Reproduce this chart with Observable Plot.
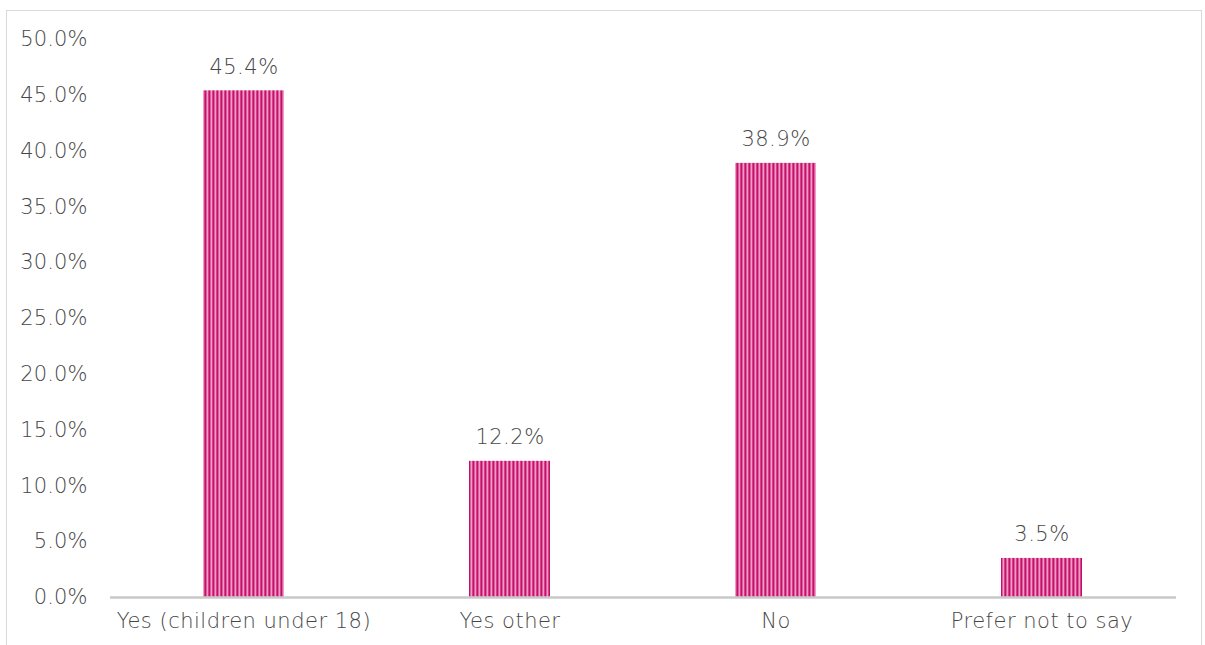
<!DOCTYPE html>
<html>
<head>
<meta charset="utf-8">
<script src="https://cdn.jsdelivr.net/npm/d3@7"></script>
<script src="https://cdn.jsdelivr.net/npm/@observablehq/plot@0.6"></script>
<style>
  html, body { margin: 0; padding: 0; background: #fff; overflow: hidden; width: 1205px; height: 645px; }
  #frame { position: absolute; left: 6px; top: 10px; width: 1196px; height: 700px; border: 1px solid #d9d9d9; box-sizing: border-box; }
  #chart { position: absolute; left: 0; top: 0; }
  #chart svg text { letter-spacing: 0.5px; }
  #chart svg g[aria-label="y-axis tick label"] text { letter-spacing: 0.1px; }
</style>
</head>
<body>
<div id="frame"></div>
<div id="chart"></div>
<script>
const categories = ["Yes (children under 18)", "Yes other", "No", "Prefer not to say"];
const values = [45.4, 12.2, 38.9, 3.5];
const yTicks = [0, 5, 10, 15, 20, 25, 30, 35, 40, 45, 50];

const data = categories.map((c, i) => ({category: c, value: values[i]}));
const fmt = d => d.toFixed(1) + "%";

const chart = Plot.plot({
  width: 1205,
  height: 645,
  marginLeft: 110,
  marginRight: 29,
  marginTop: 39,
  marginBottom: 48,
  style: {fontFamily: "'DejaVu Sans', sans-serif", fontSize: "21px", fontWeight: 300, color: "#474747", background: "transparent"},
  x: {domain: categories, paddingInner: 0.695, paddingOuter: 0.3475, label: null, tickSize: 0, tickPadding: 16},
  y: {domain: [0, 50], ticks: yTicks, tickFormat: fmt, label: null, tickSize: 0, tickPadding: 23},
  marks: [
    Plot.barY(data, {x: "category", y: "value", fill: "url(#stripes)"}),
    Plot.ruleY([0], {stroke: "#c9c9c9", strokeWidth: 2.5}),
    Plot.text(data, {x: "category", y: "value", text: d => fmt(d.value), dy: -17, lineAnchor: "bottom", fill: "#474747", fontSize: 21})
  ]
});

const ns = "http://www.w3.org/2000/svg";
const defs = document.createElementNS(ns, "defs");
defs.innerHTML = `
  <pattern id="stripes" patternUnits="userSpaceOnUse" width="4" height="10">
    <rect x="0" y="0" width="4" height="10" fill="#f39bc6"/>
    <rect x="0" y="0" width="1" height="10" fill="#d8408a"/>
    <rect x="1" y="0" width="1.5" height="10" fill="#c0106c"/>
    <rect x="2.5" y="0" width="0.5" height="10" fill="#e36aa5"/>
  </pattern>`;
chart.insertBefore(defs, chart.firstChild);
document.getElementById("chart").appendChild(chart);
</script>
</body>
</html>
